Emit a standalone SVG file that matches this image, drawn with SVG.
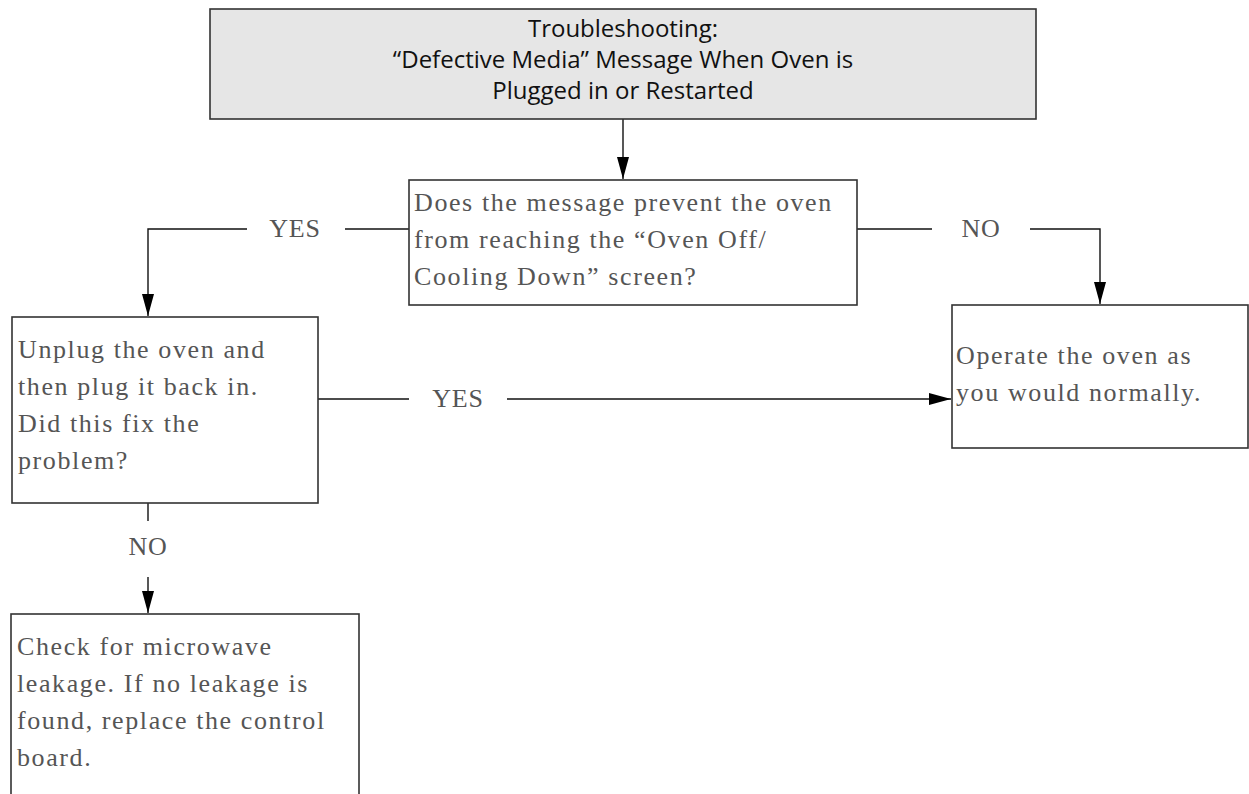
<svg xmlns="http://www.w3.org/2000/svg" width="1249" height="794" viewBox="0 0 1249 794">
<style>
.box{fill:#fff;stroke:#333;stroke-width:1.6}
.title{fill:#e6e6e6;stroke:#333;stroke-width:1.6}
.tt{font-family:"Open Sans","Noto Sans",sans-serif;font-size:24px;fill:#111;text-anchor:middle}
.bt{font-family:"Liberation Serif","Times New Roman",serif;font-size:26px;letter-spacing:1.6px;fill:#555}
.lbl{font-family:"Liberation Serif","Times New Roman",serif;font-size:26px;letter-spacing:0.8px;fill:#555;text-anchor:middle}
.ln{fill:none;stroke:#111;stroke-width:1.4}
</style>
<defs>
<marker id="arr" markerUnits="userSpaceOnUse" markerWidth="22" markerHeight="14" viewBox="0 0 22 14" refX="22" refY="7" orient="auto">
<path d="M0,1 L22,7 L0,13 Z" fill="#000"/>
</marker>
</defs>
<g id="connectors">
<path class="ln" d="M623,119 V179" marker-end="url(#arr)"/>
<path class="ln" d="M409,229 H345"/>
<path class="ln" d="M247,229 H148 V316" marker-end="url(#arr)"/>
<text class="lbl" x="295" y="237">YES</text>
<path class="ln" d="M857,229 H932"/>
<path class="ln" d="M1030,229 H1100 V304" marker-end="url(#arr)"/>
<text class="lbl" x="981" y="237">NO</text>
<path class="ln" d="M318,399 H409"/>
<path class="ln" d="M507,399 H951" marker-end="url(#arr)"/>
<text class="lbl" x="458" y="407">YES</text>
<path class="ln" d="M148,503 V521"/>
<path class="ln" d="M148,577 V613" marker-end="url(#arr)"/>
<text class="lbl" x="148" y="555">NO</text>
</g>
<g id="title">
<rect class="title" x="210" y="9" width="826" height="110"/>
<text class="tt" x="623" y="37">Troubleshooting:</text>
<text class="tt" x="623" y="68">“Defective Media” Message When Oven is</text>
<text class="tt" x="623" y="99">Plugged in or Restarted</text>
</g>
<g id="decision">
<rect class="box" x="409" y="180" width="448" height="125"/>
<text class="bt" x="414" y="211">Does the message prevent the oven</text>
<text class="bt" x="414" y="248">from reaching the “Oven Off/</text>
<text class="bt" x="414" y="285">Cooling Down” screen?</text>
</g>
<g id="unplug">
<rect class="box" x="12" y="317" width="306" height="186"/>
<text class="bt" x="18" y="358">Unplug the oven and</text>
<text class="bt" x="18" y="395">then plug it back in.</text>
<text class="bt" x="18" y="432">Did this fix the</text>
<text class="bt" x="18" y="469">problem?</text>
</g>
<g id="operate">
<rect class="box" x="952" y="305" width="296" height="143"/>
<text class="bt" x="956" y="364">Operate the oven as</text>
<text class="bt" x="956" y="401">you would normally.</text>
</g>
<g id="check">
<rect class="box" x="11" y="614" width="348" height="200"/>
<text class="bt" x="17" y="655">Check for microwave</text>
<text class="bt" x="17" y="692">leakage. If no leakage is</text>
<text class="bt" x="17" y="729">found, replace the control</text>
<text class="bt" x="17" y="766">board.</text>
</g>
</svg>
